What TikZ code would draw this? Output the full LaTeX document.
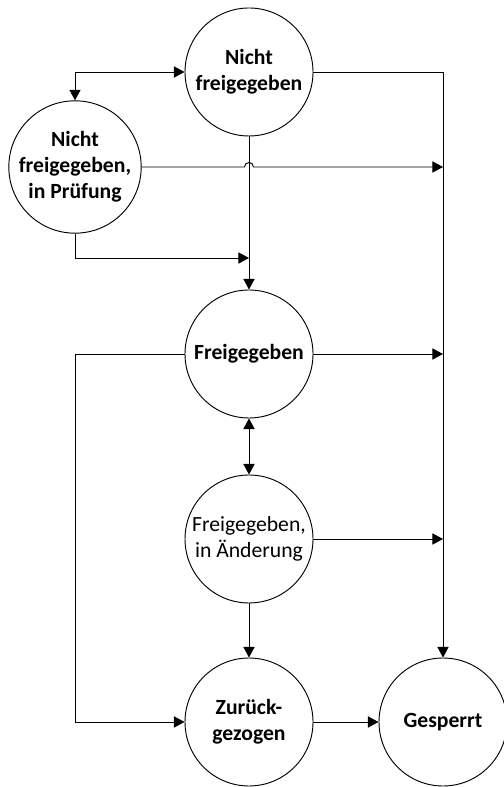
\documentclass[tikz,border=0pt]{standalone}
\usepackage{fontspec}
\setmainfont{Carlito}
\usetikzlibrary{calc}
\usetikzlibrary{arrows.meta}

\tikzset{
	zustand/.style={draw, circle, line width=0.8pt, minimum size=3.84cm, inner sep=0pt, align=center, font=\bfseries\fontsize{18.5}{22}\selectfont},
	pfeil/.style={line width=0.8pt, -{Triangle[length=9pt,width=9.5pt]}},
}

\begin{document}
\begin{tikzpicture}[x=0.03cm, y=0.03cm]
			\useasboundingbox (0,0) rectangle (503,787);
			\node[zustand] (nf) at (249,715) {Nicht\\freigegeben};
			\node[zustand] (nfp) at (75,620) {Nicht\\freigegeben,\\in Prüfung};
			\node[zustand] (fg) at (249,433) {Freigegeben};
			\node[zustand, font=\fontsize{18.5}{22}\selectfont] (fga) at (249,248) {Freigegeben,\\in Änderung};
			\node[zustand] (zg) at (249,65) {Zurück-\\gezogen};
			\node[zustand] (gs) at (443,65) {Gesperrt};
			\coordinate (ecke) at (nfp.north |- nf.west);
			\coordinate (treffen) at (nf.south |- 0,529);
			\coordinate (sprung) at (nf.south |- nfp.east);
			\draw[pfeil] (ecke) -- (nf.west);
			\draw[pfeil] (ecke) -- (nfp.north);
			\draw[pfeil] (nf.east) -| (gs.north);
			\draw[pfeil] (nfp.east) -- ($(sprung)+(-4.5,0)$) arc[start angle=180, end angle=0, radius=4.5] -- (nfp.east -| gs.north);
			\draw[pfeil] (nf.south) -- (fg.north);
			\draw[pfeil] (nfp.south) |- (treffen);
			\draw[pfeil] (fg.west) -| (nfp.south |- zg.west) -- (zg.west);
			\draw[pfeil] (fg.east) -- (fg.east -| gs.north);
			\draw[pfeil, {Triangle[length=9pt,width=9.5pt]}-{Triangle[length=9pt,width=9.5pt]}] (fg.south) -- (fga.north);
			\draw[pfeil] (fga.east) -- (fga.east -| gs.north);
			\draw[pfeil] (fga.south) -- (zg.north);
			\draw[pfeil] (zg.east) -- (gs.west);
		\end{tikzpicture}
\end{document}
